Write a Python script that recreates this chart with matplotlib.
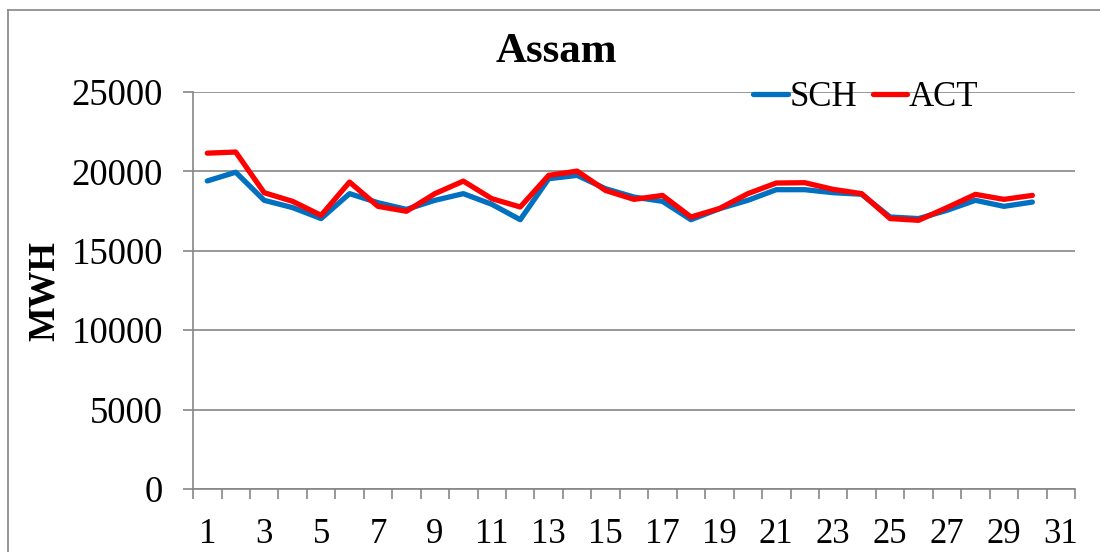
import matplotlib.pyplot as plt
import numpy as np
from matplotlib.lines import Line2D

days = list(range(1, 31))
sch = [19400, 19950, 18180, 17720, 17030, 18600, 18030, 17610, 18180, 18600,
       17930, 16960, 19540, 19750, 18910, 18385, 18115, 16960, 17650, 18180,
       18850, 18850, 18660, 18560, 17130, 17030, 17550, 18180, 17800, 18070]
act = [21150, 21220, 18660, 18115, 17235, 19330, 17800, 17490, 18600, 19390,
       18285, 17760, 19750, 20020, 18800, 18240, 18490, 17130, 17660, 18600,
       19270, 19290, 18870, 18600, 17030, 16920, 17720, 18555, 18240, 18490]
x_labels = [str(i) for i in range(1, 32, 2)]

plt.rcParams["font.family"] = ["Liberation Serif", "DejaVu Serif"]
grey = "#868686"

fig = plt.figure(figsize=(11, 5.52), dpi=100)
ax = fig.add_axes([0.1755, 0.1141, 0.8018, 0.7192])

ax.plot(days, sch, color="#0070C0", lw=3.8, solid_capstyle="round", label="SCH", zorder=3)
ax.plot(days, act, color="#FF0000", lw=3.8, solid_capstyle="round", label="ACT", zorder=4)

ax.set_xlim(0.5, 31.5)
ax.set_ylim(0, 25000)
ax.set_yticks(np.arange(0, 25001, 5000))
ax.grid(axis="y", color=grey, lw=1.2)
ax.set_axisbelow(True)

# category boundaries as tick marks, labels at odd category centres
ax.set_xticks(np.arange(0.5, 32, 1))
ax.set_xticklabels([])
ax.set_xticks(range(1, 32, 2), minor=True)
ax.set_xticklabels(x_labels, minor=True, fontsize=25)
ax.tick_params(axis="x", which="major", length=7.5, color=grey, width=1.2)
ax.tick_params(axis="x", which="minor", length=0, pad=21)
ax.tick_params(axis="y", length=7.5, color=grey, width=1.2, labelsize=26.5, pad=14)

for s in ["top", "right"]:
    ax.spines[s].set_visible(False)
for s in ["left", "bottom"]:
    ax.spines[s].set_color(grey)
    ax.spines[s].set_linewidth(1.2)

fig.text(0.04, 0.473, "MWH", rotation=90, fontsize=26.5, fontweight="bold",
         ha="center", va="center")
fig.text(0.506, 0.905, "Assam", fontsize=31, fontweight="bold", ha="center", va="center")

ax.legend(loc="center", bbox_to_anchor=(0.787, 0.823), bbox_transform=fig.transFigure,
          ncol=2, frameon=False, fontsize=25, handlelength=1.0, handletextpad=0.05,
          columnspacing=0.45, borderpad=0)

# outer chart border
fig.add_artist(Line2D([8 / 1100, 8 / 1100], [0, 1 - 10 / 552], color=grey, lw=1.2,
                      transform=fig.transFigure))
fig.add_artist(Line2D([8 / 1100, 1], [1 - 10 / 552, 1 - 10 / 552], color=grey, lw=1.2,
                      transform=fig.transFigure))

fig.savefig("out.png", dpi=100)
